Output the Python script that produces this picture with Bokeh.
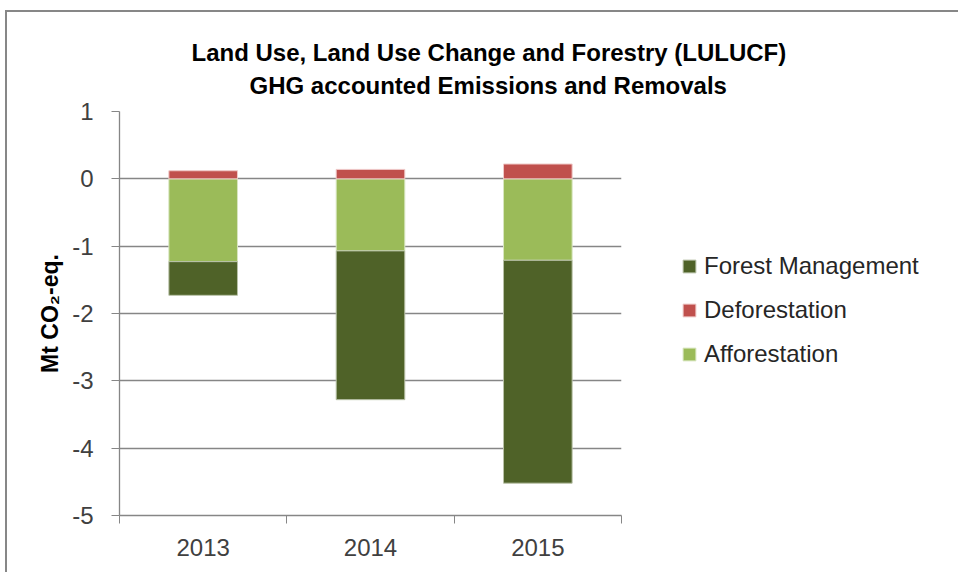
import numpy as np
from bokeh.plotting import figure
from bokeh.models import (Range1d, FixedTicker, Legend, LegendItem, Title,
                          ColumnDataSource)
from bokeh.embed import file_html
from bokeh.resources import INLINE

years = ["2013", "2014", "2015"]
afforestation = [-1.23, -1.07, -1.21]
deforestation = [0.12, 0.14, 0.22]
forest_management = [-0.50, -2.21, -3.31]
yticks = [1, 0, -1, -2, -3, -4, -5]

FONT = "Liberation Sans"
C_FM = "#4F6228"
C_DEF = "#C0504D"
C_AFF = "#9BBB59"
GRID = "#868686"
TXT = "#404040"

x = np.arange(len(years)) + 0.5
aff = np.array(afforestation)
dfo = np.array(deforestation)
fm = np.array(forest_management)

src = ColumnDataSource(dict(
    x=x,
    aff_top=np.zeros_like(aff), aff_bot=aff,
    def_top=dfo, def_bot=np.zeros_like(dfo),
    fm_top=aff, fm_bot=aff + fm,
))

p = figure(width=948, height=560, output_backend="svg", toolbar_location=None,
           x_range=Range1d(0, len(years)), y_range=Range1d(-5, 1),
           min_border_left=112, min_border_right=334, min_border_top=99,
           min_border_bottom=57)
p.frame_width = 502
p.frame_height = 404
p.styles = {"border-top": "2px solid #878787", "border-left": "2px solid #878787",
            "margin-top": "10px", "margin-left": "5px"}
p.outline_line_color = None
p.background_fill_color = "white"
p.border_fill_color = "white"

w = 0.41
r_aff = p.vbar(x="x", top="aff_top", bottom="aff_bot", width=w, source=src,
               fill_color=C_AFF, line_color="#d8e6c0", line_width=1)
r_fm = p.vbar(x="x", top="fm_top", bottom="fm_bot", width=w, source=src,
              fill_color=C_FM, line_color="#b9c2a8", line_width=1)
r_def = p.vbar(x="x", top="def_top", bottom="def_bot", width=w, source=src,
               fill_color=C_DEF, line_color="#efc9c8", line_width=1)

# axes
xa = p.xaxis[0]
xa.ticker = FixedTicker(ticks=list(x), minor_ticks=list(range(len(years) + 1)))
xa.major_label_overrides = {float(v): yr for v, yr in zip(x, years)}
xa.major_tick_line_color = None
xa.major_tick_out = 0
xa.major_tick_in = 0
xa.minor_tick_out = 8
xa.minor_tick_in = 0
xa.minor_tick_line_color = GRID
xa.axis_line_color = GRID
xa.axis_line_width = 1.3
xa.major_label_standoff = 15
xa.major_label_text_font = FONT
xa.major_label_text_font_size = "24px"
xa.major_label_text_color = TXT

ya = p.yaxis[0]
ya.ticker = FixedTicker(ticks=yticks)
ya.major_label_overrides = {v: str(v) for v in yticks}
ya.minor_tick_line_color = None
ya.major_tick_out = 8
ya.major_tick_in = 0
ya.major_tick_line_color = GRID
ya.axis_line_color = GRID
ya.axis_line_width = 1.3
ya.major_label_standoff = 18
ya.major_label_text_font = FONT
ya.major_label_text_font_size = "24px"
ya.major_label_text_color = TXT
ya.axis_label = "Mt CO\u2082-eq."
ya.axis_label_text_font = FONT
ya.axis_label_text_font_style = "bold"
ya.axis_label_text_font_size = "23px"
ya.axis_label_text_color = "black"
ya.axis_label_standoff = 6

p.xgrid.grid_line_color = None
p.ygrid.grid_line_color = GRID
p.ygrid.grid_line_width = 1.3

# title (two lines), centred at the same point as the original
t2 = Title(text="GHG accounted Emissions and Removals", align="left",
           text_font=FONT, text_font_size="24px", text_font_style="bold",
           text_color="black", offset=130, standoff=26)
t1 = Title(text="Land Use, Land Use Change and Forestry (LULUCF)", align="left",
           text_font=FONT, text_font_size="24px", text_font_style="bold",
           text_color="black", offset=72, standoff=-18)
p.add_layout(t2, "above")
p.add_layout(t1, "above")

legend = Legend(items=[
    LegendItem(label="Forest Management", renderers=[r_fm]),
    LegendItem(label="Deforestation", renderers=[r_def]),
    LegendItem(label="Afforestation", renderers=[r_aff]),
], location=(60, 147))
legend.border_line_color = None
legend.background_fill_alpha = 0
legend.margin = 0
legend.padding = 0
legend.glyph_width = 16
legend.glyph_height = 16
legend.label_standoff = 7
legend.label_height = 25
legend.spacing = 16
legend.label_text_font = FONT
legend.label_text_font_size = "24px"
legend.label_text_color = "#262626"
p.add_layout(legend, "right")

open("out.html", "w").write(file_html(p, INLINE))
